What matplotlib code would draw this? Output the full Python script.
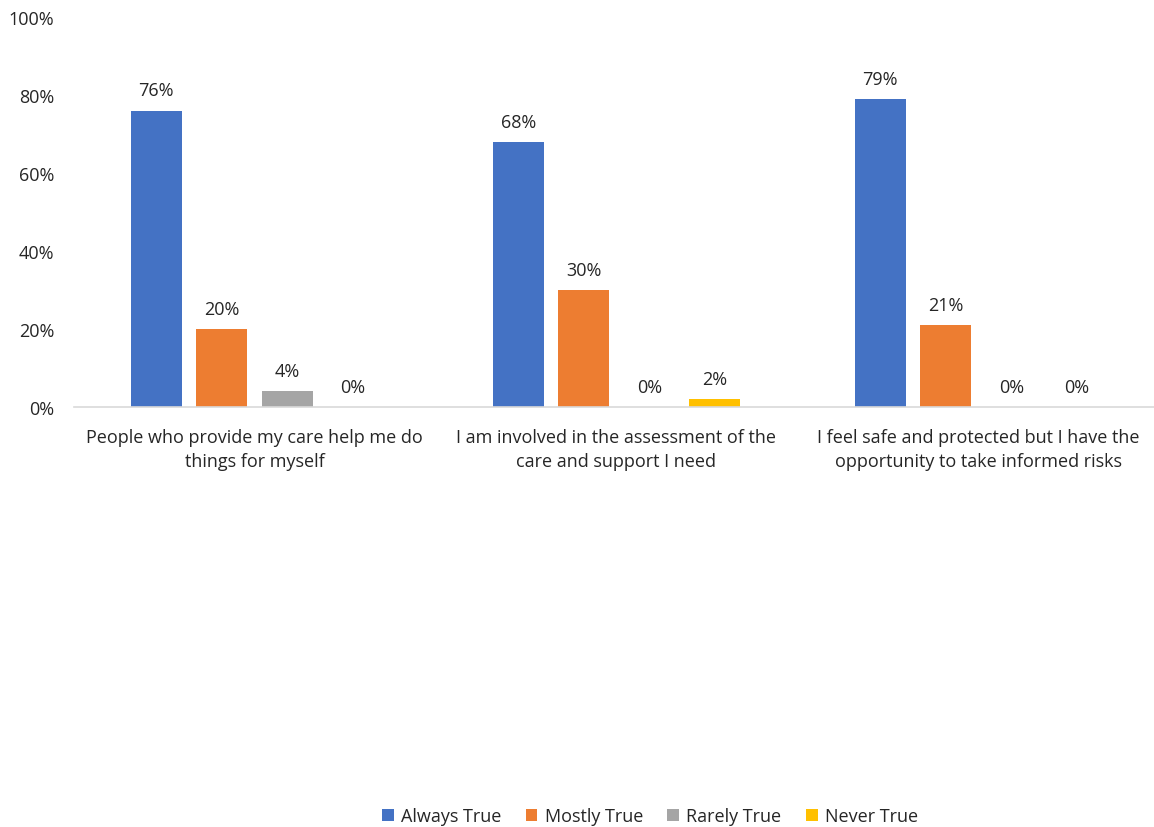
import matplotlib
matplotlib.use('Agg')
import matplotlib.pyplot as plt
import numpy as np

# Dados do gráfico
categorias = ['People who provide my care help me do\nthings for myself',
              'I am involved in the assessment of the\ncare and support I need',
              'I feel safe and protected but I have the\nopportunity to take informed risks']
series = ['Always True', 'Mostly True', 'Rarely True', 'Never True']
always_true = [76, 68, 79]
mostly_true = [20, 30, 21]
rarely_true = [4, 0, 0]
never_true = [0, 2, 0]
cores = ['#4472C4', '#ED7D31', '#A5A5A5', '#FFC000']
y_ticks = [0, 20, 40, 60, 80, 100]

def main():
    plt.rcParams['font.family'] = ['Open Sans', 'DejaVu Sans']
    fig = plt.figure(figsize=(11.54, 8.28), dpi=100)
    ax = fig.add_axes([73.5/1154, 1-408/828, 1086/1154, 390/828])

    x = np.arange(len(categorias))
    largura = 0.141
    passo = 0.181
    valores = [always_true, mostly_true, rarely_true, never_true]
    for i, (nome, vals) in enumerate(zip(series, valores)):
        pos = x + (i - 1.5)*passo
        bars = ax.bar(pos, vals, largura, color=cores[i], label=nome)
        for b, v in zip(bars, vals):
            ax.annotate(f'{v}%', (b.get_x() + b.get_width()/2, v), xytext=(0, 8),
                        textcoords='offset points', ha='center', va='bottom',
                        fontsize=13, color='#262626')

    ax.set_xlim(-0.5, 2.5)
    ax.set_ylim(0, 100)
    ax.set_yticks(y_ticks)
    ax.set_yticklabels([f'{t}%' for t in y_ticks], fontsize=13, color='#262626')
    ax.set_xticks(x)
    ax.set_xticklabels(categorias, fontsize=13, color='#262626', linespacing=1.45)
    ax.tick_params(axis='both', length=0)
    ax.tick_params(axis='y', pad=14)
    ax.tick_params(axis='x', pad=15)
    for s in ['top', 'right', 'left']:
        ax.spines[s].set_visible(False)
    ax.spines['bottom'].set_color('#D9D9D9')
    ax.spines['bottom'].set_linewidth(1.2)

    fig.legend(loc='center', bbox_to_anchor=(650/1154, 1-817/828), ncol=4, frameon=False,
               fontsize=13, handlelength=0.65, handleheight=0.65, handletextpad=0.4,
               columnspacing=1.35, labelcolor='#262626')

    fig.savefig('out.png', dpi=100)

if __name__ == '__main__':
    main()
